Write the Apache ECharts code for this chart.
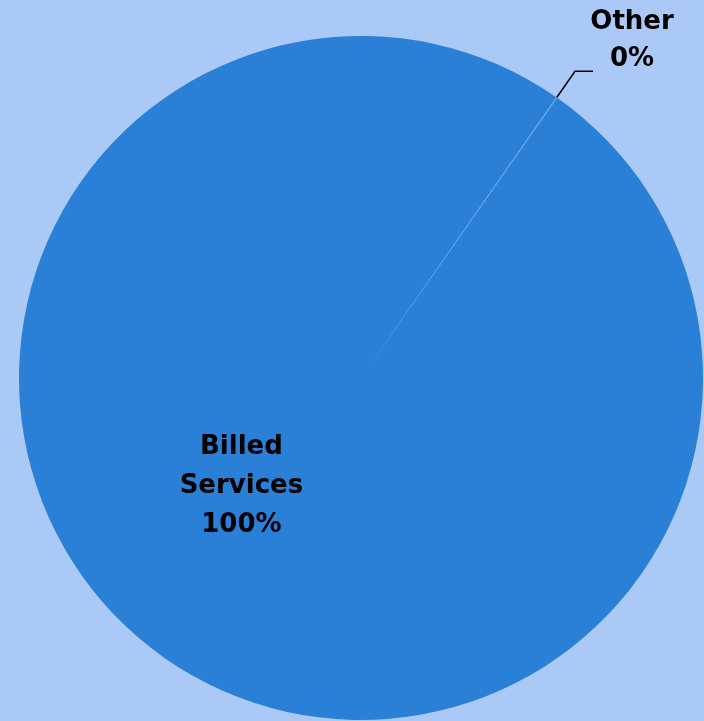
<!DOCTYPE html>
<html>
<head>
<meta charset="utf-8">
<script src="https://cdn.jsdelivr.net/npm/echarts@6/dist/echarts.min.js"></script>
<style>
html,body{margin:0;padding:0;background:#abc9f6;}
#chart{width:704px;height:721px;}
</style>
</head>
<body>
<div id="chart"></div>
<script>
const categories = ['Billed Services', 'Other'];
const values = [99.95, 0.05];
const colors = ['#2a7fd7', '#5d9fe6'];

const chart = echarts.init(document.getElementById('chart'), null, {renderer: 'canvas'});
const fontFamily = '"DejaVu Sans", sans-serif';

const data = categories.map((name, i) => {
  const item = {name: name, value: values[i], itemStyle: {color: colors[i]}};
  if (i === 0) {
    item.label = {
      position: 'inside',
      offset: [-20, -34],
      formatter: p => 'Billed\nServices\n' + Math.round(p.percent) + '%',
      fontSize: 26, lineHeight: 39, fontWeight: 'bold', color: '#000', fontFamily: fontFamily
    };
    item.labelLine = {show: false};
  } else {
    item.label = {
      position: 'outside',
      formatter: p => '{t|' + p.name + '}\n{t|' + Math.round(p.percent) + '%}',
      distanceToLabelLine: 0,
      padding: [0, 0, 62, 0],
      rich: {
        t: {width: 78, align: 'center', fontSize: 26, lineHeight: 37, fontWeight: 'bold', color: '#000', fontFamily: fontFamily}
      }
    };
    item.labelLine = {show: true, length: 32, length2: 18, lineStyle: {color: '#000', width: 1.5}};
  }
  return item;
});

chart.setOption({
  backgroundColor: '#abc9f6',
  animation: false,
  series: [{
    type: 'pie',
    center: [361, 378],
    radius: 342,
    startAngle: 55,
    clockwise: true,
    avoidLabelOverlap: false,
    itemStyle: {borderWidth: 0},
    emphasis: {disabled: true},
    data: data
  }]
});
</script>
</body>
</html>
